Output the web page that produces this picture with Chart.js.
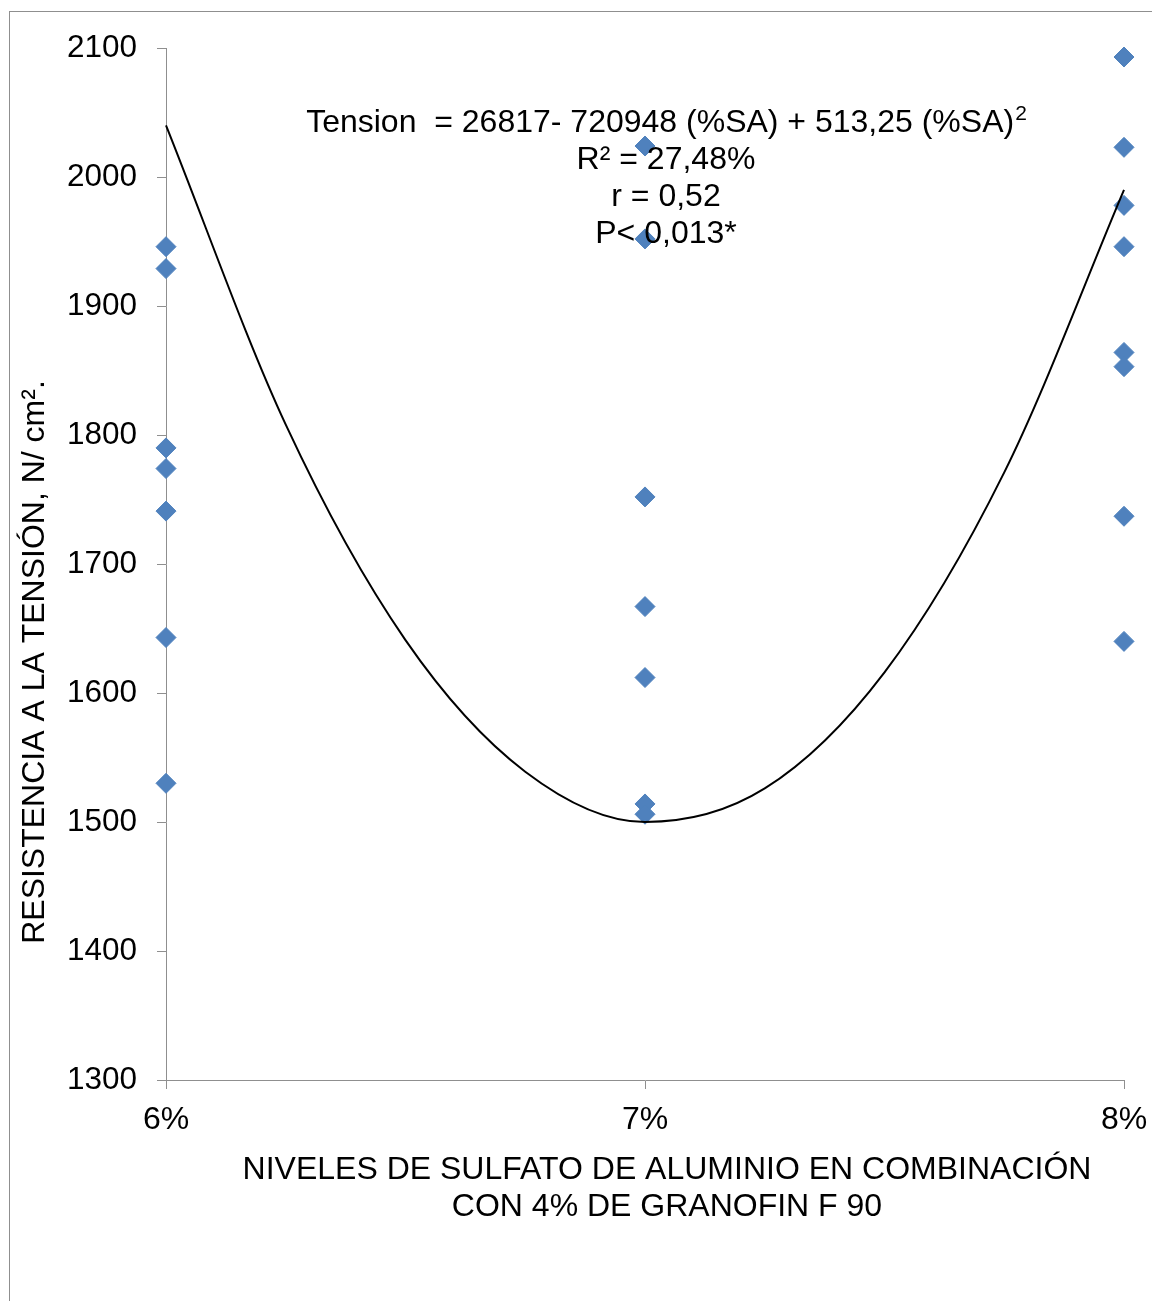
<!DOCTYPE html>
<html>
<head>
<meta charset="utf-8">
<script src="https://cdn.jsdelivr.net/npm/chart.js@4"></script>
<style>
  body { margin: 0; background: #fff; overflow: hidden; }
  #frame { position: absolute; left: 9px; top: 11px; width: 1300px; height: 1400px; border-left: 1px solid #8f8f8f; border-top: 1px solid #8f8f8f; }
  #chart { position: absolute; left: 0; top: 0; }
</style>
</head>
<body>
<div id="frame"></div>
<canvas id="chart" width="1152" height="1301"></canvas>
<script>
  // x levels (% sulfato de aluminio)
  const levels = [6, 7, 8];
  // measured tension at each level
  const tension6 = [1946, 1929, 1790, 1774, 1741, 1643, 1530];
  const tension7 = [2024, 1952, 1752, 1667, 1612, 1514, 1506];
  const tension8 = [2093, 2023, 1978, 1946, 1864, 1853, 1737, 1640];
  // trend curve
  const trendX = [6, 6.25, 6.5, 6.75, 7, 7.25, 7.5, 7.75, 8];
  const trendY = [2040, 1808, 1641, 1539, 1500, 1526, 1616, 1771, 1990];
  const yTicks = [1300, 1400, 1500, 1600, 1700, 1800, 1900, 2000, 2100];

  const font = "'Liberation Sans', Arial, sans-serif";

  const points = [];
  [tension6, tension7, tension8].forEach((arr, i) => {
    arr.forEach(v => points.push({ x: levels[i], y: v }));
  });
  const trend = trendX.map((x, i) => ({ x: x, y: trendY[i] }));

  const textPlugin = {
    id: 'texts',
    afterDraw(chart) {
      const ctx = chart.ctx;
      ctx.save();
      ctx.fillStyle = '#000';
      ctx.textAlign = 'center';
      ctx.textBaseline = 'middle';

      // equation block
      const cx = 666;
      const line1 = "Tension  = 26817- 720948 (%SA) + 513,25 (%SA)";
      ctx.font = "32px " + font;
      const w1 = ctx.measureText(line1).width;
      ctx.font = "21px " + font;
      const wsup = ctx.measureText("2").width;
      const start = cx - (w1 + wsup) / 2;
      ctx.textAlign = 'left';
      ctx.font = "32px " + font;
      ctx.fillText(line1, start, 123);
      ctx.font = "21px " + font;
      ctx.fillText("2", start + w1 + 1, 114);
      ctx.textAlign = 'center';
      ctx.font = "32px " + font;
      ctx.fillText("R² = 27,48%", cx, 160);
      ctx.fillText("r = 0,52", cx, 197);
      ctx.fillText("P< 0,013*", cx, 234);

      // x axis title
      ctx.fillText("NIVELES DE SULFATO DE ALUMINIO EN COMBINACIÓN", 667, 1170);
      ctx.fillText("CON 4% DE GRANOFIN F 90", 667, 1207);

      // y axis title
      ctx.translate(35, 662);
      ctx.rotate(-Math.PI / 2);
      ctx.fillText("RESISTENCIA A LA TENSIÓN, N/ cm².", 0, 0);
      ctx.restore();
    }
  };

  new Chart(document.getElementById('chart'), {
    type: 'scatter',
    data: {
      datasets: [
        {
          data: trend,
          type: 'line',
          showLine: true,
          borderColor: '#000',
          borderWidth: 2,
          pointRadius: 0,
          cubicInterpolationMode: 'monotone',
          fill: false,
          clip: false,
          order: 0
        },
        {
          data: points,
          pointStyle: 'rectRot',
          pointRadius: 10,
          backgroundColor: '#4F81BD',
          borderColor: '#4F81BD',
          borderWidth: 1,
          clip: false,
          order: 1
        }
      ]
    },
    options: {
      responsive: false,
      animation: false,
      layout: { padding: { left: 0, top: 48, right: 28, bottom: 0 } },
      plugins: {
        legend: { display: false },
        tooltip: { enabled: false }
      },
      scales: {
        x: {
          type: 'linear',
          min: 6,
          max: 8,
          afterFit: s => { s.height = 221; s.paddingLeft = 0; s.paddingRight = 0; },
          afterBuildTicks: s => { s.ticks = levels.map(v => ({ value: v })); },
          ticks: {
            color: '#000',
            font: { family: font, size: 32 },
            padding: 12,
            maxRotation: 0,
            callback: v => v + '%'
          },
          grid: { drawOnChartArea: false, drawTicks: true, tickLength: 9, color: '#8f8f8f' },
          border: { color: '#8f8f8f', width: 1 }
        },
        y: {
          min: 1300,
          max: 2100,
          afterFit: s => { s.width = 166; s.paddingTop = 0; s.paddingBottom = 0; },
          afterBuildTicks: s => { s.ticks = yTicks.map(v => ({ value: v })); },
          ticks: {
            color: '#000',
            font: { family: font, size: 31.5 },
            padding: 20,
            callback: v => String(v)
          },
          grid: { drawOnChartArea: false, drawTicks: true, tickLength: 9, color: '#8f8f8f' },
          border: { color: '#8f8f8f', width: 1 }
        }
      }
    },
    plugins: [textPlugin]
  });
</script>
</body>
</html>
